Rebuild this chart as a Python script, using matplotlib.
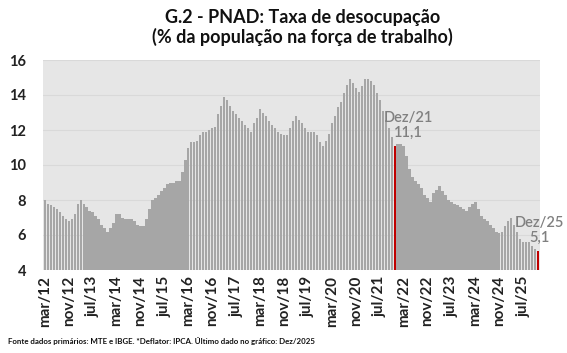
import matplotlib
matplotlib.use("Agg")
import matplotlib.pyplot as plt
import numpy as np

# PNAD unemployment rate (% of labour force), monthly, mar/2012 .. dez/2025
rate_2012 = [8.0, 7.8, 7.7, 7.6, 7.5, 7.3, 7.1, 6.9, 6.8, 6.9]  # mar-dez
rate_2013 = [7.2, 7.8, 8.0, 7.8, 7.6, 7.4, 7.3, 7.1, 6.9, 6.6, 6.4, 6.2]
rate_2014 = [6.4, 6.7, 7.2, 7.2, 7.0, 6.9, 6.9, 6.9, 6.8, 6.6, 6.5, 6.5]
rate_2015 = [6.9, 7.5, 8.0, 8.1, 8.3, 8.5, 8.7, 8.9, 9.0, 9.0, 9.1, 9.1]
rate_2016 = [9.6, 10.3, 11.0, 11.3, 11.3, 11.4, 11.7, 11.9, 11.9, 12.0, 12.1, 12.2]
rate_2017 = [12.9, 13.4, 13.9, 13.7, 13.4, 13.1, 12.9, 12.7, 12.5, 12.3, 12.1, 11.9]
rate_2018 = [12.4, 12.7, 13.2, 13.0, 12.8, 12.5, 12.3, 12.1, 11.9, 11.8, 11.7, 11.7]
rate_2019 = [12.1, 12.5, 12.8, 12.6, 12.4, 12.1, 11.9, 11.9, 11.9, 11.7, 11.3, 11.1]
rate_2020 = [11.4, 11.8, 12.4, 12.8, 13.3, 13.6, 14.1, 14.6, 14.9, 14.7, 14.4, 14.2]
rate_2021 = [14.5, 14.9, 14.9, 14.8, 14.6, 14.1, 13.7, 13.1, 12.6, 12.1, 11.6, 11.1]
rate_2022 = [11.2, 11.2, 11.1, 10.5, 9.8, 9.3, 9.1, 8.9, 8.7, 8.3, 8.1, 7.9]
rate_2023 = [8.4, 8.6, 8.8, 8.5, 8.3, 8.0, 7.9, 7.8, 7.7, 7.6, 7.5, 7.4]
rate_2024 = [7.6, 7.8, 7.9, 7.5, 7.1, 6.9, 6.8, 6.6, 6.4, 6.2, 6.1, 6.2]
rate_2025 = [6.5, 6.8, 7.0, 6.6, 6.2, 5.8, 5.6, 5.6, 5.6, 5.4, 5.2, 5.1]

months_pt = ["jan", "fev", "mar", "abr", "mai", "jun", "jul", "ago", "set", "out", "nov", "dez"]
highlight = ["dez/21", "dez/25"]

values = (rate_2012 + rate_2013 + rate_2014 + rate_2015 + rate_2016 + rate_2017 + rate_2018
          + rate_2019 + rate_2020 + rate_2021 + rate_2022 + rate_2023 + rate_2024 + rate_2025)
labels = []
for year in range(2012, 2026):
    for m in range(12):
        if year == 2012 and m < 2:
            continue
        labels.append(f"{months_pt[m]}/{str(year)[2:]}")

plt.rcParams['font.family'] = ['Lato', 'DejaVu Sans']

fig = plt.figure(figsize=(5.67, 3.53), dpi=100)
ax = fig.add_axes([43 / 567, 1 - 270 / 353, 497 / 567, 210 / 353])
ax.set_facecolor("#e6e6e6")

x = np.arange(len(values))
colors = ["#c00000" if lab in highlight else "#a6a6a6" for lab in labels]
ax.bar(x, values, width=0.78, color=colors, zorder=2)

ax.set_ylim(4, 16)
ax.set_xlim(-0.6, len(values) - 0.4)
ax.set_yticks(range(4, 17, 2))
ax.yaxis.grid(True, color="#d9d9d9", linewidth=0.8, zorder=0)
ax.set_xticks(x[::8])
ax.set_xticklabels(labels[::8], rotation=90, fontsize=11, fontweight="bold", color="#222222")
for t in ax.get_yticklabels():
    t.set_fontsize(10.5)
    t.set_fontweight("bold")
    t.set_color("#222222")
ax.tick_params(length=0, pad=4)
ax.tick_params(axis="y", pad=12)
for s in ax.spines.values():
    s.set_visible(False)

# annotations for highlighted bars
for lab, dx in zip(highlight, [4.5, 0.5]):
    i = labels.index(lab)
    v = values[i]
    txt = f"{lab.capitalize()}\n{str(v).replace('.', ',')}"
    ax.annotate(txt, (i + dx, v), xytext=(0, 4), textcoords="offset points",
                ha="center", va="bottom", fontsize=10.5, color="#808080",
                fontweight="semibold", linespacing=1.1, annotation_clip=False)

fig.text(0.534, 0.975, "G.2 - PNAD: Taxa de desocupação\n(% da população na força de trabalho)",
         ha="center", va="top", fontsize=13, fontweight="bold", color="#111111", linespacing=1.15)
fig.text(0.014, 0.022, "Fonte dados primários: MTE e IBGE. *Deflator: IPCA. Último dado no gráfico: Dez/2025",
         ha="left", va="bottom", fontsize=5.7, fontweight="bold", color="#111111")

fig.savefig("out.png", dpi=100)
